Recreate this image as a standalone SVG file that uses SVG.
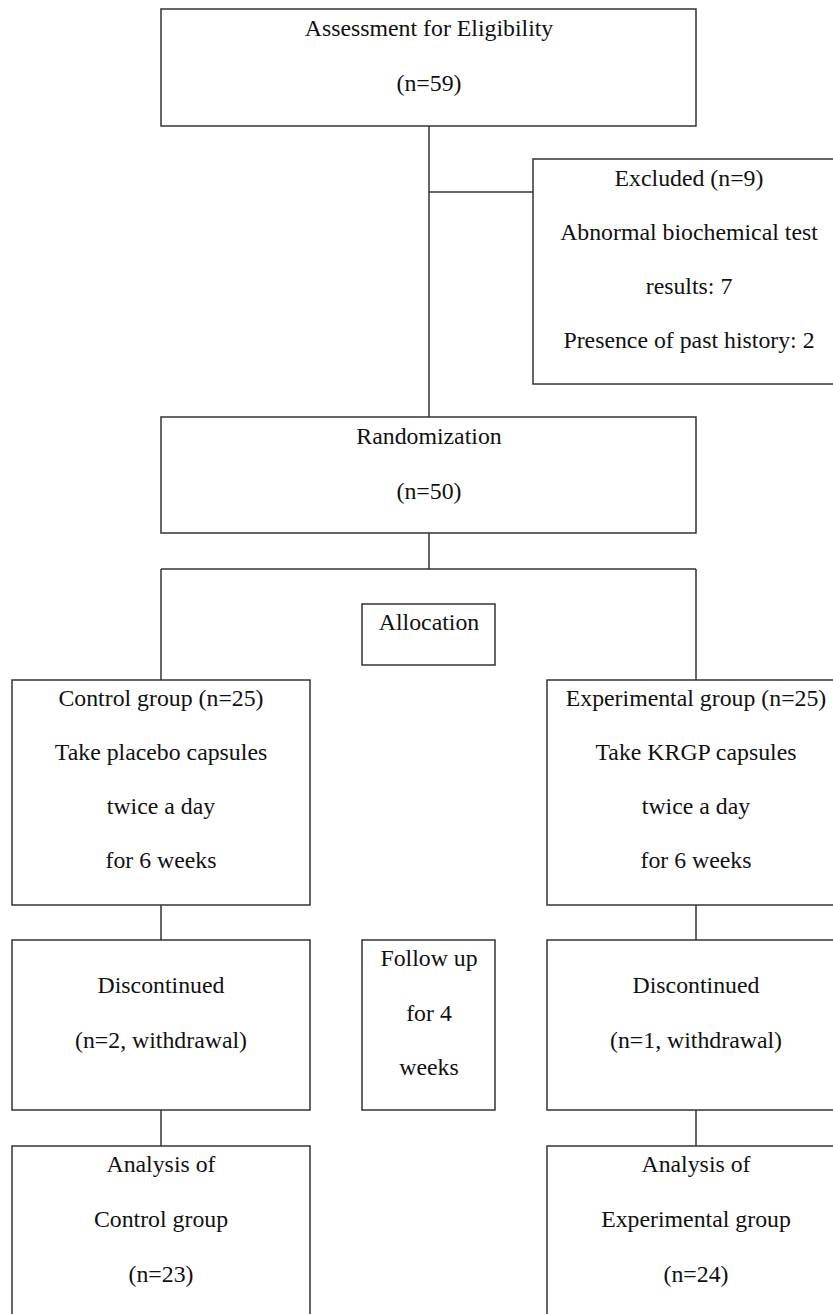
<svg xmlns="http://www.w3.org/2000/svg" width="833" height="1314" viewBox="0 0 833 1314">
<style>
.box{fill:#fff;stroke:#333;stroke-width:1.5}
.ln{stroke:#333;stroke-width:1.5;fill:none}
.t text{font-family:'Liberation Serif',serif;font-size:23.8px;fill:#111;text-anchor:middle}
</style>
<rect width="833" height="1314" fill="#fff"/>
<g id="connectors">
<line class="ln" x1="429" y1="126" x2="429" y2="417"/>
<line class="ln" x1="429" y1="192" x2="533" y2="192"/>
<line class="ln" x1="429" y1="533" x2="429" y2="569"/>
<line class="ln" x1="161" y1="569" x2="696" y2="569"/>
<line class="ln" x1="161" y1="569" x2="161" y2="680"/>
<line class="ln" x1="696" y1="569" x2="696" y2="680"/>
<line class="ln" x1="161" y1="905" x2="161" y2="940"/>
<line class="ln" x1="696" y1="905" x2="696" y2="940"/>
<line class="ln" x1="161" y1="1110" x2="161" y2="1146"/>
<line class="ln" x1="696" y1="1110" x2="696" y2="1146"/>
</g>
<g id="assessment" class="t">
<rect class="box" x="161" y="9" width="535" height="117"/>
<text x="429" y="36">Assessment for Eligibility</text>
<text x="429" y="91">(n=59)</text>
</g>
<g id="excluded" class="t">
<rect class="box" x="533" y="159" width="310" height="225"/>
<text x="689" y="186">Excluded (n=9)</text>
<text x="689" y="240">Abnormal biochemical test</text>
<text x="689" y="294">results: 7</text>
<text x="689" y="348">Presence of past history: 2</text>
</g>
<g id="randomization" class="t">
<rect class="box" x="161" y="417" width="535" height="116"/>
<text x="429" y="444">Randomization</text>
<text x="429" y="499">(n=50)</text>
</g>
<g id="allocation" class="t">
<rect class="box" x="362" y="604" width="133" height="61"/>
<text x="429" y="630">Allocation</text>
</g>
<g id="control" class="t">
<rect class="box" x="12" y="680" width="298" height="225"/>
<text x="161" y="706">Control group (n=25)</text>
<text x="161" y="760">Take placebo capsules</text>
<text x="161" y="814">twice a day</text>
<text x="161" y="868">for 6 weeks</text>
</g>
<g id="experimental" class="t">
<rect class="box" x="547" y="680" width="296" height="225"/>
<text x="696" y="706">Experimental group (n=25)</text>
<text x="696" y="760">Take KRGP capsules</text>
<text x="696" y="814">twice a day</text>
<text x="696" y="868">for 6 weeks</text>
</g>
<g id="disc-control" class="t">
<rect class="box" x="12" y="940" width="298" height="170"/>
<text x="161" y="993">Discontinued</text>
<text x="161" y="1048">(n=2, withdrawal)</text>
</g>
<g id="followup" class="t">
<rect class="box" x="362" y="940" width="133" height="170"/>
<text x="429" y="966">Follow up</text>
<text x="429" y="1021">for 4</text>
<text x="429" y="1075">weeks</text>
</g>
<g id="disc-exp" class="t">
<rect class="box" x="547" y="940" width="296" height="170"/>
<text x="696" y="993">Discontinued</text>
<text x="696" y="1048">(n=1, withdrawal)</text>
</g>
<g id="analysis-control" class="t">
<rect class="box" x="12" y="1146" width="298" height="180"/>
<text x="161" y="1172">Analysis of</text>
<text x="161" y="1227">Control group</text>
<text x="161" y="1282">(n=23)</text>
</g>
<g id="analysis-exp" class="t">
<rect class="box" x="547" y="1146" width="296" height="180"/>
<text x="696" y="1172">Analysis of</text>
<text x="696" y="1227">Experimental group</text>
<text x="696" y="1282">(n=24)</text>
</g>
</svg>
